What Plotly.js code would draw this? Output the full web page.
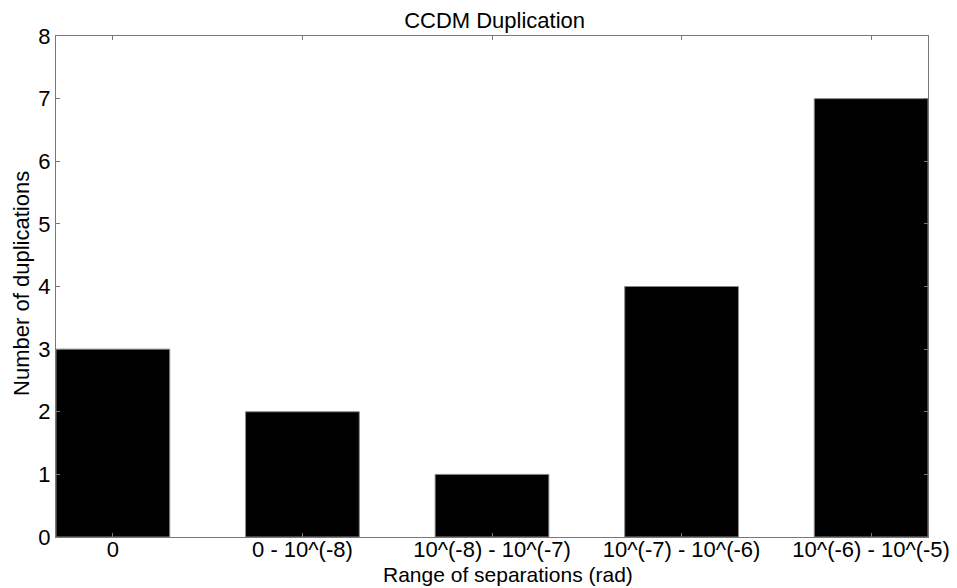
<!DOCTYPE html>
<html>
<head>
<meta charset="utf-8">
<script src="https://cdn.plot.ly/plotly-3.0.1.min.js"></script>
<style>html,body{margin:0;padding:0;background:#fff;}#chart{width:957px;height:588px;}</style>
</head>
<body>
<div id="chart"></div>
<script>
const categories = ["0", "0 - 10^(-8)", "10^(-8) - 10^(-7)", "10^(-7) - 10^(-6)", "10^(-6) - 10^(-5)"];
const duplications = [3, 2, 1, 4, 7];
const yTicks = [0, 1, 2, 3, 4, 5, 6, 7, 8];
const chartTitle = "CCDM Duplication";
const xTitle = "Range of separations (rad)";
const yTitle = "Number of duplications";

const fam = "Liberation Sans, Arial, sans-serif";

Plotly.newPlot("chart", [{
  type: "bar",
  x: categories,
  y: duplications,
  width: 0.6,
  marker: {color: "#000", line: {color: "#888", width: 1}},
  hoverinfo: "none"
}], {
  width: 957, height: 588,
  margin: {l: 56, r: 29, t: 36, b: 51},
  paper_bgcolor: "#fff", plot_bgcolor: "#fff",
  showlegend: false,
  font: {family: fam, color: "#000"},
  title: {text: chartTitle, font: {size: 22, family: fam, color: "#000"}, x: 0.503, xref: "paper", xanchor: "center", y: 0.966, yref: "container", yanchor: "middle"},
  xaxis: {
    type: "category",
    range: [-0.3, 4.3],
    showgrid: false, zeroline: false,
    showline: true, linecolor: "#777", linewidth: 1, mirror: "allticks",
    ticks: "inside", ticklen: 4, tickcolor: "#777",
    ticklabelstandoff: -7,
    tickfont: {size: 22, family: fam, color: "#000"},
    fixedrange: true
  },
  yaxis: {
    range: [0, 8],
    tickvals: yTicks,
    ticktext: yTicks.map(String),
    showgrid: false, zeroline: false,
    showline: true, linecolor: "#777", linewidth: 1, mirror: "allticks",
    ticks: "inside", ticklen: 4, tickcolor: "#777",
    tickfont: {size: 22, family: fam, color: "#000"},
    fixedrange: true
  },
  annotations: [
    {text: xTitle, xref: "paper", yref: "paper", x: 0.518, y: -0.1018, xanchor: "center", yanchor: "bottom",
     showarrow: false, font: {size: 21, family: fam, color: "#000"}},
    {text: yTitle, xref: "paper", yref: "paper", x: -0.0397, y: 0.506, xanchor: "center", yanchor: "middle",
     textangle: -90, showarrow: false, font: {size: 22, family: fam, color: "#000"}}
  ]
}, {staticPlot: true});
</script>
</body>
</html>
